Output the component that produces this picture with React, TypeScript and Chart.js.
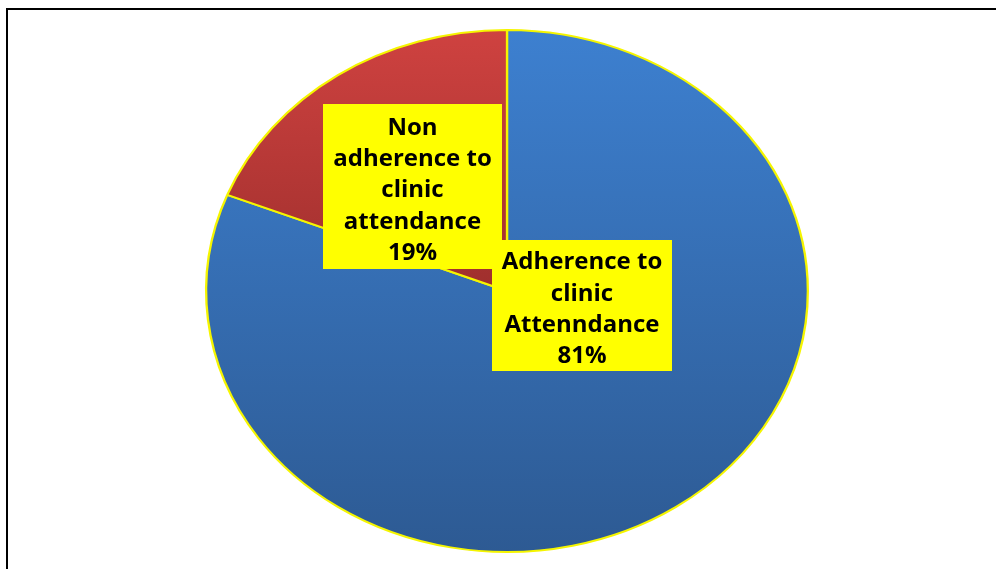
import React, { useEffect, useRef } from "react";
import { Chart, registerables } from "chart.js";

Chart.register(...registerables);

// ---- data ----
const categories = ["Adherence to clinic Attenndance", "Non adherence to clinic attendance"];
const values = [81, 19];
const labelLines = [
  ["Adherence to", "clinic", "Attenndance"],
  ["Non", "adherence to", "clinic", "attendance"],
];

// ---- layout / style ----
const W = 996;
const H = 569;
const PIE_LEFT = 245;
const PIE_RIGHT = 769;
const PIE_TOP = 29;
const PIE_BOTTOM = 553;
const STRETCH_X = 302 / 262;
const LABEL_BOXES = [
  { x: 492, y: 240, w: 180, h: 131 },
  { x: 323, y: 104, w: 179, h: 165 },
];
const LINE_H = 31.4;
const FONT = "bold 24px 'Open Sans', Lato, sans-serif";

const framePlugin = {
  id: "frame",
  beforeDraw(chart: any) {
    const ctx = chart.ctx;
    ctx.save();
    ctx.fillStyle = "#ffffff";
    ctx.fillRect(0, 0, W, H);
    ctx.strokeStyle = "#000000";
    ctx.lineWidth = 2;
    ctx.beginPath();
    ctx.moveTo(7, H);
    ctx.lineTo(7, 9);
    ctx.lineTo(W, 9);
    ctx.stroke();
    ctx.restore();
  },
};

const ellipsePlugin = {
  id: "ellipse",
  beforeDatasetsDraw(chart: any) {
    const ctx = chart.ctx;
    const arc = chart.getDatasetMeta(0).data[0];
    ctx.save();
    ctx.translate(arc.x, 0);
    ctx.scale(STRETCH_X, 1);
    ctx.translate(-arc.x, 0);
  },
  afterDatasetsDraw(chart: any) {
    chart.ctx.restore();
  },
};

const labelPlugin = {
  id: "boxLabels",
  afterDraw(chart: any) {
    const ctx = chart.ctx;
    const data = chart.data.datasets[0].data as number[];
    const order = [1, 0];
    ctx.save();
    for (const i of order) {
      const b = LABEL_BOXES[i];
      ctx.fillStyle = "#FFFF00";
      ctx.fillRect(b.x, b.y, b.w, b.h);
      const lines = [...labelLines[i], `${data[i]}%`];
      ctx.fillStyle = "#000000";
      ctx.font = FONT;
      ctx.textAlign = "center";
      ctx.textBaseline = "middle";
      const cx = b.x + b.w / 2;
      const cy = b.y + b.h / 2 + 4;
      const start = cy - ((lines.length - 1) * LINE_H) / 2;
      lines.forEach((t, k) => ctx.fillText(t, cx, start + k * LINE_H));
    }
    ctx.restore();
  },
};

export default function App() {
  const ref = useRef<HTMLCanvasElement | null>(null);

  useEffect(() => {
    const canvas = ref.current!;
    const g = canvas.getContext("2d")!;
    const blue = g.createLinearGradient(0, PIE_TOP, 0, PIE_BOTTOM);
    blue.addColorStop(0, "#3D80D0");
    blue.addColorStop(1, "#2D5A93");
    const red = g.createLinearGradient(0, PIE_TOP, 0, (PIE_TOP + PIE_BOTTOM) / 2);
    red.addColorStop(0, "#CF4240");
    red.addColorStop(1, "#9F2F2D");

    const chart = new Chart(canvas, {
      type: "pie",
      data: {
        labels: categories,
        datasets: [
          {
            data: values,
            backgroundColor: [blue, red],
            borderColor: "#F5F500",
            borderWidth: 2,
          },
        ],
      },
      options: {
        responsive: false,
        animation: false,
        layout: {
          padding: {
            left: PIE_LEFT,
            right: W - PIE_RIGHT,
            top: PIE_TOP,
            bottom: H - PIE_BOTTOM,
          },
        },
        plugins: {
          legend: { display: false },
          tooltip: { enabled: false },
        },
      },
      plugins: [framePlugin, ellipsePlugin, labelPlugin],
    });
    return () => chart.destroy();
  }, []);

  return (
    <div style={{ position: "fixed", left: 0, top: 0, width: W, height: H, background: "#fff" }}>
      <canvas ref={ref} width={W} height={H} style={{ display: "block", width: W, height: H }} />
    </div>
  );
}
